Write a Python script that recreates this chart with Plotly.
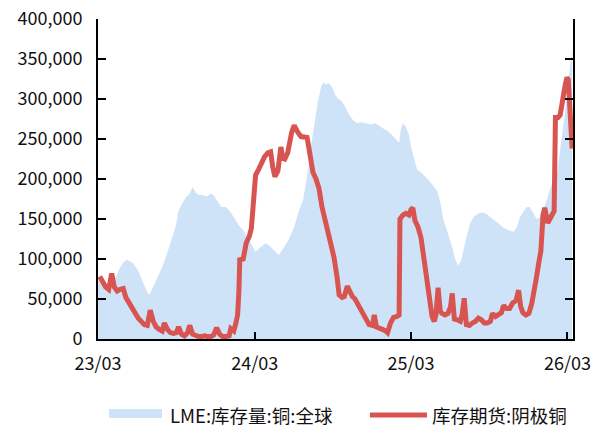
import plotly.graph_objects as go

# LME copper stocks (global), tonnes
lme_dates = [
    "2023-03-01", "2023-03-10", "2023-03-19", "2023-03-29", "2023-04-10", "2023-04-22",
    "2023-05-01", "2023-05-08", "2023-05-15", "2023-05-22", "2023-06-03", "2023-06-15",
    "2023-06-24", "2023-06-29", "2023-07-08", "2023-07-20", "2023-07-29", "2023-08-08",
    "2023-08-17", "2023-08-29", "2023-09-05", "2023-09-14", "2023-09-24", "2023-10-01",
    "2023-10-08", "2023-10-15", "2023-10-22", "2023-11-01", "2023-11-10", "2023-11-19",
    "2023-11-26", "2023-12-05", "2023-12-14", "2023-12-24", "2024-01-01", "2024-01-15",
    "2024-01-24", "2024-02-03", "2024-02-12", "2024-02-22", "2024-03-03", "2024-03-15",
    "2024-03-27", "2024-04-07", "2024-04-17", "2024-04-26", "2024-05-05", "2024-05-19",
    "2024-06-01", "2024-06-12", "2024-06-22", "2024-07-03", "2024-07-10", "2024-07-15",
    "2024-07-22", "2024-07-27", "2024-08-03", "2024-08-08", "2024-08-15", "2024-08-22",
    "2024-08-29", "2024-09-05", "2024-09-12", "2024-09-19", "2024-09-28", "2024-10-08",
    "2024-10-17", "2024-10-26", "2024-11-05", "2024-11-16", "2024-11-28", "2024-12-07",
    "2024-12-17", "2024-12-26", "2025-01-05", "2025-01-14", "2025-01-24", "2025-02-01",
    "2025-02-05", "2025-02-10", "2025-02-17", "2025-02-24", "2025-03-01", "2025-03-08",
    "2025-03-15", "2025-03-24", "2025-04-03", "2025-04-12", "2025-04-21", "2025-05-01",
    "2025-05-08", "2025-05-15", "2025-05-24", "2025-06-05", "2025-06-12", "2025-06-19",
    "2025-06-26", "2025-07-01", "2025-07-08", "2025-07-17", "2025-07-26", "2025-08-05",
    "2025-08-14", "2025-08-23", "2025-09-03", "2025-09-12", "2025-09-21", "2025-10-01",
    "2025-10-10", "2025-10-19", "2025-10-26", "2025-11-03", "2025-11-10", "2025-11-17",
    "2025-11-26", "2025-12-03", "2025-12-10", "2025-12-19", "2025-12-26", "2026-01-03",
    "2026-01-12", "2026-01-21", "2026-01-28", "2026-02-05", "2026-02-12", "2026-02-19",
    "2026-02-26", "2026-03-01", "2026-03-06", "2026-03-10", "2026-03-12",
]
lme_stock = [
    72000, 70000, 62000, 58000, 75000, 90000,
    97000, 99000, 97000, 95000, 85000, 70000,
    58000, 55000, 65000, 80000, 90000, 105000,
    120000, 140000, 160000, 170000, 178000, 182000,
    190000, 183000, 180000, 180000, 178000, 182000,
    180000, 172000, 165000, 165000, 161000, 150000,
    142000, 136000, 128000, 118000, 109000, 115000,
    120000, 115000, 110000, 105000, 112000, 124000,
    140000, 160000, 174000, 210000, 240000, 257000,
    285000, 299000, 315000, 321000, 318000, 320000,
    314000, 305000, 300000, 298000, 290000, 280000,
    273000, 270000, 271000, 270000, 268000, 270000,
    266000, 263000, 260000, 256000, 250000, 245000,
    262000, 270000, 265000, 255000, 240000, 225000,
    212000, 208000, 203000, 198000, 192000, 185000,
    172000, 150000, 135000, 115000, 100000, 92000,
    98000, 112000, 127000, 145000, 153000, 157000,
    158000, 157000, 152000, 149000, 144000, 140000,
    137000, 135000, 134000, 140000, 152000, 158000,
    165000, 165000, 158000, 150000, 152000, 162000,
    174000, 190000, 200000, 207000, 235000, 265000,
    290000, 307000, 335000, 355000, 362000,
]

# SHFE cathode copper futures warehouse stocks, tonnes
shfe_dates = [
    "2023-03-05", "2023-03-12", "2023-03-19", "2023-03-26", "2023-04-02", "2023-04-08",
    "2023-04-15", "2023-04-22", "2023-04-29", "2023-05-05", "2023-05-12", "2023-05-19",
    "2023-05-26", "2023-06-03", "2023-06-10", "2023-06-17", "2023-06-24", "2023-07-01",
    "2023-07-08", "2023-07-15", "2023-07-22", "2023-07-29", "2023-08-03", "2023-08-10",
    "2023-08-17", "2023-08-24", "2023-08-31", "2023-09-05", "2023-09-12", "2023-09-19",
    "2023-09-26", "2023-10-01", "2023-10-08", "2023-10-15", "2023-10-22", "2023-10-29",
    "2023-11-05", "2023-11-12", "2023-11-19", "2023-11-26", "2023-12-03", "2023-12-10",
    "2023-12-17", "2023-12-24", "2024-01-01", "2024-01-05", "2024-01-12", "2024-01-17",
    "2024-01-21", "2024-01-24", "2024-01-26", "2024-02-03", "2024-02-10", "2024-02-17",
    "2024-02-22", "2024-02-26", "2024-03-03", "2024-03-10", "2024-03-17", "2024-03-24",
    "2024-04-01", "2024-04-07", "2024-04-12", "2024-04-17", "2024-04-24", "2024-05-01",
    "2024-05-05", "2024-05-10", "2024-05-17", "2024-05-21", "2024-05-26", "2024-06-01",
    "2024-06-05", "2024-06-10", "2024-06-17", "2024-06-24", "2024-07-01", "2024-07-05",
    "2024-07-10", "2024-07-15", "2024-07-22", "2024-07-29", "2024-08-05", "2024-08-12",
    "2024-08-19", "2024-08-26", "2024-09-02", "2024-09-09", "2024-09-14", "2024-09-21",
    "2024-09-26", "2024-10-03", "2024-10-08", "2024-10-15", "2024-10-21", "2024-10-28",
    "2024-11-05", "2024-11-10", "2024-11-16", "2024-11-23", "2024-12-01", "2024-12-05",
    "2024-12-10", "2024-12-17", "2024-12-24", "2025-01-01", "2025-01-05", "2025-01-12",
    "2025-01-19", "2025-01-26", "2025-02-01", "2025-02-03", "2025-02-10", "2025-02-17",
    "2025-02-24", "2025-03-01", "2025-03-05", "2025-03-10", "2025-03-17", "2025-03-24",
    "2025-03-31", "2025-04-05", "2025-04-10", "2025-04-14", "2025-04-19", "2025-04-24",
    "2025-04-28", "2025-05-03", "2025-05-08", "2025-05-12", "2025-05-19", "2025-05-26",
    "2025-06-01", "2025-06-05", "2025-06-10", "2025-06-17", "2025-06-24", "2025-06-28",
    "2025-07-03", "2025-07-08", "2025-07-15", "2025-07-22", "2025-07-29", "2025-08-05",
    "2025-08-12", "2025-08-19", "2025-08-26", "2025-09-02", "2025-09-07", "2025-09-14",
    "2025-09-21", "2025-09-28", "2025-10-03", "2025-10-10", "2025-10-17", "2025-10-24",
    "2025-11-01", "2025-11-07", "2025-11-12", "2025-11-17", "2025-11-24", "2025-12-01",
    "2025-12-08", "2025-12-12", "2025-12-19", "2025-12-24", "2025-12-29", "2026-01-03",
    "2026-01-07", "2026-01-14", "2026-01-21", "2026-01-29", "2026-02-01", "2026-02-07",
    "2026-02-12", "2026-02-16", "2026-02-19", "2026-02-24", "2026-02-28", "2026-03-03",
    "2026-03-05", "2026-03-10", "2026-03-12",
]
shfe_stock = [
    78000, 70000, 65000, 62000, 82000, 65000,
    60000, 62000, 63000, 52000, 45000, 40000,
    33000, 26000, 22000, 18000, 17000, 36000,
    22000, 15000, 12000, 10000, 20000, 12000,
    8000, 7000, 8000, 15000, 6000, 4000,
    8000, 17000, 6000, 4000, 3000, 3000,
    4000, 3000, 3000, 5000, 14000, 6000,
    3000, 3000, 4000, 13000, 10000, 20000,
    30000, 60000, 99000, 100000, 120000, 128000,
    138000, 165000, 205000, 212000, 220000, 228000,
    233000, 234000, 215000, 203000, 210000, 240000,
    226000, 225000, 233000, 248000, 258000, 267000,
    262000, 258000, 253000, 252000, 252000, 240000,
    225000, 208000, 200000, 188000, 165000, 150000,
    132000, 115000, 102000, 78000, 55000, 52000,
    53000, 66000, 60000, 53000, 50000, 43000,
    36000, 30000, 22000, 18000, 17000, 30000,
    15000, 14000, 12000, 10000, 8000, 20000,
    27000, 28000, 30000, 150000, 155000, 157000,
    155000, 162000, 164000, 148000, 140000, 127000,
    100000, 85000, 60000, 42000, 28000, 22000,
    30000, 64000, 35000, 32000, 30000, 32000,
    40000, 57000, 25000, 24000, 22000, 30000,
    51000, 18000, 17000, 20000, 22000, 26000,
    24000, 20000, 20000, 22000, 32000, 28000,
    31000, 33000, 42000, 38000, 38000, 45000,
    48000, 61000, 40000, 33000, 30000, 32000,
    45000, 55000, 78000, 95000, 110000, 155000,
    164000, 145000, 152000, 160000, 277000, 277000,
    280000, 295000, 300000, 318000, 327000, 324000,
    305000, 265000, 238000,
]

x_tick_vals = ["2023-03-01", "2024-03-01", "2025-03-01", "2026-03-01"]
x_tick_text = ["23/03", "24/03", "25/03", "26/03"]
y_tick_vals = [0, 50000, 100000, 150000, 200000, 250000, 300000, 350000, 400000]

series_names = ["LME:库存量:铜:全球", "库存期货:阴极铜"]
BLUE = "#CFE3F8"
RED = "#D75450"
FONT = "Noto Sans CJK SC"

fig = go.Figure()
fig.add_trace(go.Scatter(
    x=lme_dates, y=lme_stock, name=series_names[0], mode="lines",
    line=dict(width=0, color=BLUE), fill="tozeroy", fillcolor=BLUE,
))
fig.add_trace(go.Scatter(
    x=shfe_dates, y=shfe_stock, name=series_names[1], mode="lines",
    line=dict(width=5, color=RED),
))

fig.update_layout(
    width=601, height=432,
    margin=dict(l=98, r=28, t=19, b=93),
    paper_bgcolor="white", plot_bgcolor="white",
    showlegend=False,
    font=dict(family=FONT, size=18, color="#111111"),
)
fig.update_xaxes(
    type="date", range=["2023-03-01", "2026-03-14"],
    tickvals=x_tick_vals, ticktext=x_tick_text,
    showline=True, linecolor="black", linewidth=2,
    ticks="inside", ticklen=7, tickwidth=2, tickcolor="black",
    showgrid=False, zeroline=False, ticklabelstandoff=7, automargin=False,
)
fig.update_yaxes(
    range=[0, 400000], tickvals=y_tick_vals, tickformat=",d",
    showline=True, linecolor="black", linewidth=2, mirror="ticks",
    ticks="inside", ticklen=8, tickwidth=2, tickcolor="black",
    showgrid=False, zeroline=False, ticklabelstandoff=10, automargin=False,
)

# Legend drawn below the plot area
fig.add_shape(type="rect", xref="paper", yref="paper",
              x0=0.0232, x1=0.1347, y0=-0.247, y1=-0.219,
              fillcolor=BLUE, line=dict(width=0))
fig.add_shape(type="line", xref="paper", yref="paper",
              x0=0.5726, x1=0.6926, y0=-0.2375, y1=-0.2375,
              line=dict(color=RED, width=5))
fig.add_annotation(xref="paper", yref="paper", x=0.1474, y=-0.2375,
                   text=series_names[0], showarrow=False,
                   xanchor="left", yanchor="middle", font=dict(size=18.5))
fig.add_annotation(xref="paper", yref="paper", x=0.699, y=-0.2375,
                   text=series_names[1], showarrow=False,
                   xanchor="left", yanchor="middle", font=dict(size=18.5))

fig.write_html("out.html")
